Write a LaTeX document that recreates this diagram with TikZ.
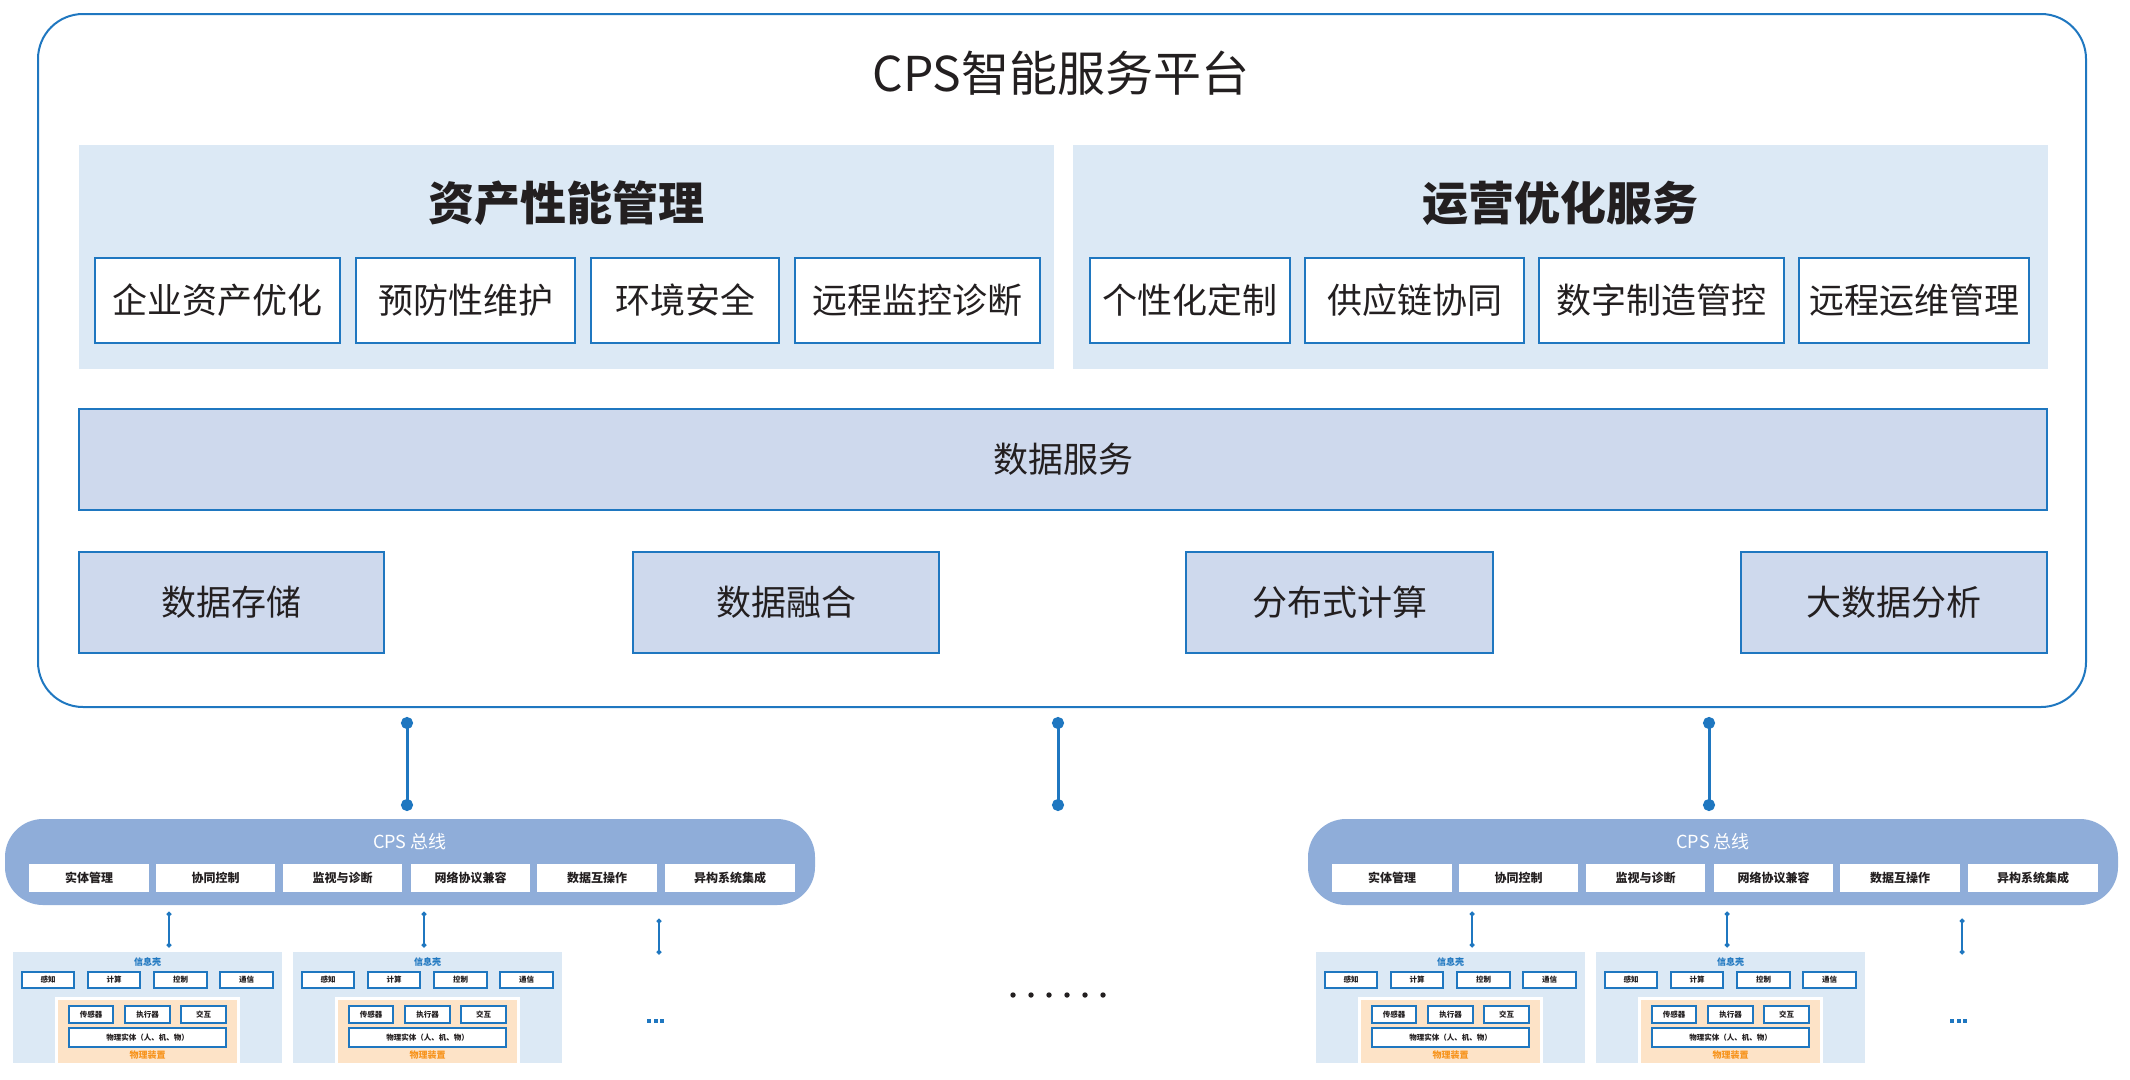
\documentclass[tikz,border=0pt]{standalone}
\usepackage{fontspec}
\setmainfont{Noto Sans CJK SC}
\usetikzlibrary{arrows.meta}
\definecolor{lineblue}{HTML}{1F77C0}
\definecolor{panelbg}{HTML}{DCE9F5}
\definecolor{databg}{HTML}{CED9ED}
\definecolor{busbg}{HTML}{8FADD9}
\definecolor{orangebg}{HTML}{FDE3C7}
\definecolor{orangetxt}{HTML}{F7941D}
\definecolor{txt}{HTML}{231F20}
\newcommand{\fs}[1]{\fontsize{#1}{#1}\selectfont}
\begin{document}
\begin{tikzpicture}[x=1pt,y=-1pt,inner sep=0pt,text=txt,
  plat/.style={draw=lineblue,line width=2pt,rounded corners=45pt,minimum width=2048,minimum height=693},
  panel/.style={fill=panelbg,minimum width=975,minimum height=224},
  head/.style={font=\fs{46}\bfseries},
  item/.style={draw=lineblue,line width=1.5pt,fill=white,minimum height=85,font=\fs{35}},
  data/.style={draw=lineblue,line width=2pt,fill=databg,minimum height=101,font=\fs{35}},
  link/.style={lineblue,line width=3pt,{Circle[length=12pt]}-{Circle[length=12pt]}},
  bus/.style={fill=busbg,rounded corners=38pt,minimum width=810,minimum height=86},
  busitem/.style={fill=white,minimum height=28,font=\fs{12}\bfseries},
  shell/.style={fill=panelbg,minimum width=269,minimum height=111},
  cell/.style={draw=lineblue,line width=1.2pt,fill=white,minimum height=16,font=\fs{7.5}\bfseries},
  thing/.style={fill=orangebg,draw=white,line width=3pt,minimum width=182,minimum height=66},
  tiny/.style={lineblue,line width=1.2pt,{Circle[length=5pt]}-{Circle[length=5pt]}}]
\useasboundingbox (0,0) rectangle (2130,1079);

% platform
\node[plat] (plat) at (1062,360.5) {};
\node[font=\fs{48}] (title) at (1061,73) {CPS智能服务平台};
\node[panel] (asset) at (566.5,257) {};
\node[panel] (oper) at (1560,257) {};
\node[head] (assetT) at (566.5,203) {资产性能管理};
\node[head] (operT) at (1560,203) {运营优化服务};
\node[item,minimum width=245] (a1) at (217.5,300.5) {企业资产优化};
\node[item,minimum width=219] (a2) at (465.5,300.5) {预防性维护};
\node[item,minimum width=188] (a3) at (685,300.5) {环境安全};
\node[item,minimum width=245] (a4) at (917.5,300.5) {远程监控诊断};
\node[item,minimum width=200] (o1) at (1190,300.5) {个性化定制};
\node[item,minimum width=219] (o2) at (1414.5,300.5) {供应链协同};
\node[item,minimum width=245] (o3) at (1661.5,300.5) {数字制造管控};
\node[item,minimum width=230] (o4) at (1914,300.5) {远程运维管理};
\node[data,minimum width=1968] (ds) at (1063,459.5) {数据服务};
\node[data,minimum width=305] (d1) at (231.5,602.5) {数据存储};
\node[data,minimum width=306] (d2) at (786,602.5) {数据融合};
\node[data,minimum width=307] (d3) at (1339.5,602.5) {分布式计算};
\node[data,minimum width=306] (d4) at (1894,602.5) {大数据分析};

% links to the buses
\coordinate (l1a) at (407,717); \coordinate (l1b) at (407,811);
\coordinate (l2a) at (1058,717); \coordinate (l2b) at (1058,811);
\coordinate (l3a) at (1709,717); \coordinate (l3b) at (1709,811);
\draw[link] (l1a) -- (l1b);
\draw[link] (l2a) -- (l2b);
\draw[link] (l3a) -- (l3b);

% buses
\foreach \b/\bx in {L/0,R/1303} {
  \node[bus] (bus\b) at (410+\bx,862) {};
  \node[text=white,font=\fs{18}] (bus\b T) at (410+\bx,842) {CPS 总线};
  \node[busitem,minimum width=120] (bus\b1) at (89+\bx,878) {实体管理};
  \node[busitem,minimum width=119] (bus\b2) at (215.5+\bx,878) {协同控制};
  \node[busitem,minimum width=119] (bus\b3) at (342.5+\bx,878) {监视与诊断};
  \node[busitem,minimum width=119] (bus\b4) at (470.5+\bx,878) {网络协议兼容};
  \node[busitem,minimum width=120] (bus\b5) at (597+\bx,878) {数据互操作};
  \node[busitem,minimum width=130] (bus\b6) at (730+\bx,878) {异构系统集成};
  \coordinate (t\b1a) at (169+\bx,911.5); \coordinate (t\b1b) at (169+\bx,947.5);
  \coordinate (t\b2a) at (424+\bx,911.5); \coordinate (t\b2b) at (424+\bx,947.5);
  \coordinate (t\b3a) at (659+\bx,918.5); \coordinate (t\b3b) at (659+\bx,954.5);
  \draw[tiny] (t\b1a) -- (t\b1b);
  \draw[tiny] (t\b2a) -- (t\b2b);
  \draw[tiny] (t\b3a) -- (t\b3b);
  \foreach \q in {647,653.5,660}
    \fill[lineblue] (\q+\bx,1019) rectangle ++(4,4);
}

% devices
\foreach \u/\ux in {1/13,2/293,3/1316,4/1596} {
  \node[shell] (s\u) at (\ux+134.5,1007.5) {};
  \node[text=lineblue,font=\fs{9}\bfseries] (s\u T) at (\ux+134.5,962) {信息壳};
  \node[cell,minimum width=52] (s\u1) at (\ux+35,980) {感知};
  \node[cell,minimum width=52] (s\u2) at (\ux+101,980) {计算};
  \node[cell,minimum width=53] (s\u3) at (\ux+167.5,980) {控制};
  \node[cell,minimum width=53] (s\u4) at (\ux+233.5,980) {通信};
  \node[thing] (p\u) at (\ux+134.5,1031) {};
  \node[cell,minimum width=44,minimum height=17] (p\u1) at (\ux+78,1014.5) {传感器};
  \node[cell,minimum width=45,minimum height=17] (p\u2) at (\ux+134.5,1014.5) {执行器};
  \node[cell,minimum width=45,minimum height=17] (p\u3) at (\ux+190.5,1014.5) {交互};
  \node[cell,minimum width=157,minimum height=19] (p\u4) at (\ux+134.5,1037.5) {物理实体（人、机、物）};
  \node[text=orangetxt,font=\fs{9}\bfseries] (p\u T) at (\ux+134.5,1055) {物理装置};
}

% more
\foreach \k in {0,...,5}
  \fill[txt] (1013+18*\k,995) circle (2.7);
\end{tikzpicture}
\end{document}
